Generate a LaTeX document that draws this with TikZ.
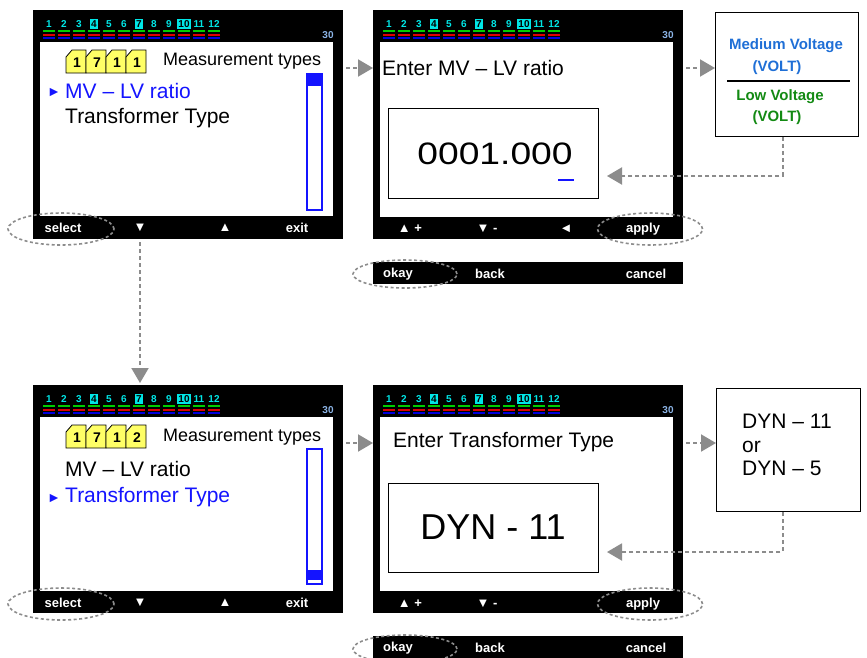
\documentclass[tikz,border=0pt]{standalone}
\usepackage{fontspec}
\setmainfont{Liberation Sans}
\usetikzlibrary{arrows.meta,shapes.geometric}

\definecolor{lcdcyan}{HTML}{00E6E6}
\definecolor{menublue}{HTML}{1414FF}
\definecolor{mvblue}{HTML}{1F6FD6}
\definecolor{lvgreen}{HTML}{138A13}
\definecolor{tagyellow}{HTML}{FFFF66}
\definecolor{flowgray}{HTML}{8C8C8C}
\definecolor{numblue}{HTML}{8CB4E6}
\definecolor{ledgreen}{HTML}{00CC00}
\definecolor{ledred}{HTML}{DD0000}
\definecolor{ledblue}{HTML}{0000DD}

\begin{document}
\begin{tikzpicture}[x=1pt,y=-1pt]
	\tikzstyle{screen} = [fill=black, inner sep=0, anchor=north west]
	\tikzstyle{lcd} = [fill=white, inner sep=0, anchor=north west]
	\tikzstyle{inbox} = [draw=black, line width=1.2, fill=white, inner sep=0, anchor=north west]
	\tikzstyle{key} = [text=white, inner sep=0, font=\fontsize{13}{13}\selectfont\bfseries]
	\tikzstyle{ring} = [ellipse, draw=flowgray, line width=1.6, dash pattern=on 3pt off 2.5pt, inner sep=0]
	\tikzstyle{flow} = [draw=flowgray, line width=2, dash pattern=on 4pt off 3pt, -{Triangle[length=15pt,width=17pt]}]
	\tikzstyle{menu} = [anchor=west, inner sep=0, font=\fontsize{21}{21}\selectfont]
	\tikzstyle{title} = [anchor=west, inner sep=0, font=\fontsize{18}{18}\selectfont]
	\tikzstyle{tag} = [draw=black, fill=tagyellow, line width=0.8]
	\tikzstyle{tagnum} = [inner sep=0, font=\fontsize{14}{14}\selectfont\bfseries]
	\tikzstyle{chan} = [inner sep=0, text=lcdcyan, font=\fontsize{10}{10}\selectfont\bfseries]
	\tikzstyle{volt} = [inner sep=0, font=\fontsize{15}{15}\selectfont\bfseries]
	\useasboundingbox (0,0) rectangle (867,657);

	\node[screen, minimum width=310, minimum height=229] (scrA) at (33,10) {};
	\node[screen, minimum width=310, minimum height=229] (scrB) at (373,10) {};
	\node[screen, minimum width=310, minimum height=228] (scrC) at (33,385) {};
	\node[screen, minimum width=310, minimum height=228] (scrD) at (373,385) {};
	\node[screen, minimum width=310, minimum height=22] (barB) at (373,262) {};
	\node[screen, minimum width=310, minimum height=22] (barD) at (373,636) {};
	\node[lcd, minimum width=293, minimum height=174] (lcdA) at (40,42) {};
	\node[lcd, minimum width=293, minimum height=175] (lcdB) at (380,42) {};
	\node[lcd, minimum width=293, minimum height=174] (lcdC) at (40,417) {};
	\node[lcd, minimum width=293, minimum height=174] (lcdD) at (380,417) {};

	\foreach \sx/\sy/\s in {33/10/A,373/10/B,33/385/C,373/385/D} {
		\foreach \i in {1,...,12} {
			\draw[ledgreen, line width=1.3] ({\sx-5+15*\i},{\sy+21}) -- ++(12,0);
			\draw[ledred, line width=2] ({\sx-5+15*\i},{\sy+24.5}) -- ++(12,0);
			\draw[ledblue, line width=1.5] ({\sx-5+15*\i},{\sy+28}) -- ++(12,0);
		}
		\foreach \i in {1,2,3,5,6,8,9,11,12}
			\node[chan] (ch\s\i) at ({\sx+1+15*\i},{\sy+14}) {\i};
		\foreach \i in {4,7,10}
			\node[chan, fill=lcdcyan, text=black, inner xsep=1, minimum height=10] (ch\s\i) at ({\sx+1+15*\i},{\sy+14}) {\i};
		\node[inner sep=0, text=numblue, font=\fontsize{10}{10}\selectfont\bfseries] (lvl\s) at ({\sx+295},{\sy+25}) {30};
	}

	\foreach \d [count=\k from 0] in {1,7,1,1} {
		\draw[tag] ({66+20*\k},73) -- ++(0,-16) -- ++(6,-7) -- ++(14,0) -- ++(0,23) -- cycle;
		\node[tagnum] (tagA\k) at ({77+20*\k},63) {\d};
	}
	\foreach \d [count=\k from 0] in {1,7,1,2} {
		\draw[tag] ({66+20*\k},448) -- ++(0,-16) -- ++(6,-7) -- ++(14,0) -- ++(0,23) -- cycle;
		\node[tagnum] (tagC\k) at ({77+20*\k},438) {\d};
	}

	\node[title] (typA) at (163,61) {Measurement types};
	\node[inner sep=0, text=menublue, font=\fontsize{14}{14}\selectfont] (curA) at (54,92) {►};
	\node[menu, text=menublue] (mvA) at (65,91) {MV – LV ratio};
	\node[menu] (trA) at (65,118) {Transformer Type};
	\draw[menublue, line width=1.3] (307,74) rectangle (322,210);
	\fill[menublue] (307,74) rectangle (322,86);

	\node[title] (typC) at (163,437) {Measurement types};
	\node[menu] (mvC) at (65,469) {MV – LV ratio};
	\node[inner sep=0, text=menublue, font=\fontsize{14}{14}\selectfont] (curC) at (54,498) {►};
	\node[menu, text=menublue] (trC) at (65,497) {Transformer Type};
	\draw[menublue, line width=1.3] (307,449) rectangle (322,584);
	\fill[menublue] (307,570) rectangle (322,580);

	\node[menu] (entB) at (382,68) {Enter MV – LV ratio};
	\node[inbox, minimum width=210, minimum height=90] (inB) at (388,108) {};
	\node[inner sep=0, font=\fontsize{31}{31}\selectfont] (valB) at (495,154) {\scalebox{1.2}[1]{0001.000}};
	\draw[menublue, line width=2.5] (558,180) -- (574,180);

	\node[menu] (entD) at (393,442) {Enter Transformer Type};
	\node[inbox, minimum width=210, minimum height=89] (inD) at (388,483) {};
	\node[inner sep=0, font=\fontsize{36}{36}\selectfont] (valD) at (493,527) {DYN - 11};

	\node[key] (selA) at (63,228) {select};
	\node[key] (dnA) at (140,228) {▼};
	\node[key] (upA) at (225,228) {▲};
	\node[key] (exA) at (297,228) {exit};
	\node[key] (upB) at (410,229) {▲ +};
	\node[key] (dnB) at (487,229) {▼ -};
	\node[key] (lfB) at (566,229) {◄};
	\node[key] (apB) at (643,229) {apply};
	\node[key] (okB) at (398,274) {okay};
	\node[key] (bkB) at (490,274) {back};
	\node[key] (caB) at (646,274) {cancel};
	\node[key] (selC) at (63,603) {select};
	\node[key] (dnC) at (140,603) {▼};
	\node[key] (upC) at (225,603) {▲};
	\node[key] (exC) at (297,603) {exit};
	\node[key] (upD) at (410,604) {▲ +};
	\node[key] (dnD) at (487,604) {▼ -};
	\node[key] (apD) at (643,604) {apply};
	\node[key] (okD) at (398,648) {okay};
	\node[key] (bkD) at (490,648) {back};
	\node[key] (caD) at (646,648) {cancel};

	\node[ring, minimum width=106, minimum height=32] (rSelA) at (61,229) {};
	\node[ring, minimum width=105, minimum height=32] (rApB) at (650,229) {};
	\node[ring, minimum width=104, minimum height=28] (rOkB) at (405,274) {};
	\node[ring, minimum width=106, minimum height=32] (rSelC) at (61,604) {};
	\node[ring, minimum width=105, minimum height=32] (rApD) at (650,604) {};
	\node[ring, minimum width=104, minimum height=28] (rOkD) at (405,649) {};

	\node[draw=black, line width=1.2, minimum width=143, minimum height=124, inner sep=0, anchor=north west] (mv) at (715,12) {};
	\node[volt, text=mvblue] (mvT) at (786,46) {Medium Voltage};
	\node[volt, text=mvblue] (mvU) at (777,68) {(VOLT)};
	\draw[line width=1.3] (727,81) -- (850,81);
	\node[volt, text=lvgreen] (lvT) at (780,97) {Low Voltage};
	\node[volt, text=lvgreen] (lvU) at (777,118) {(VOLT)};

	\node[draw=black, line width=1.2, minimum width=144, minimum height=123, inner sep=0, anchor=north west] (dyn) at (716,388) {};
	\node[anchor=west, align=left, inner sep=0, font=\fontsize{21}{23.5}\selectfont] (dynT) at (742,445) {DYN – 11\\or\\DYN – 5};

	\coordinate (topRow) at (0,68);
	\coordinate (botRow) at (0,443);
	\coordinate (retB) at (607,176);
	\coordinate (retD) at (607,552);
	\draw[flow, shorten <=3pt] (scrA.east |- topRow) -- (scrB.west |- topRow);
	\draw[flow, shorten <=3pt] (scrB.east |- topRow) -- (mv.west |- topRow);
	\draw[flow] ([xshift=-4.5pt]mv.south) |- (retB);
	\draw[flow, shorten <=3pt] (scrC.east |- botRow) -- (scrD.west |- botRow);
	\draw[flow, shorten <=3pt] (scrD.east |- botRow) -- (dyn.west |- botRow);
	\draw[flow] ([xshift=-6pt]dyn.south) |- (retD);
	\draw[flow, shorten <=3pt, shorten >=2pt] (dnA |- scrA.south) -- (dnA |- scrC.north);
\end{tikzpicture}
\end{document}
